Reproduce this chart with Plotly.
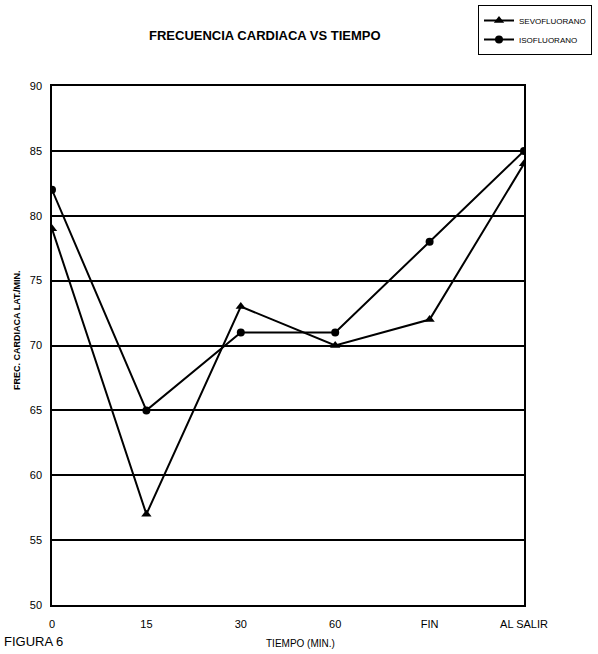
import plotly.graph_objects as go

# Tiempo de medición
tiempos = ["0", "15", "30", "60", "FIN", "AL SALIR"]

# Frecuencia cardiaca (lat./min.) por grupo
sevofluorano = [79, 57, 73, 70, 72, 84]
isofluorano = [82, 65, 71, 71, 78, 85]

y_ticks = [50, 55, 60, 65, 70, 75, 80, 85, 90]

FONT = "Liberation Sans Narrow, Arial Narrow, Liberation Sans, Arial, sans-serif"

W, H = 598, 654
L, R, T, B = 52, 74, 86, 49
PW, PH = W - L - R, H - T - B


def px(x):
    return (x - L) / PW


def py(y):
    return (H - B - y) / PH


fig = go.Figure()
fig.add_trace(go.Scatter(
    x=list(range(len(tiempos))), y=sevofluorano, name="SEVOFLUORANO",
    mode="lines+markers",
    line=dict(color="black", width=2),
    marker=dict(symbol="triangle-up", size=9, color="black"),
))
fig.add_trace(go.Scatter(
    x=list(range(len(tiempos))), y=isofluorano, name="ISOFLUORANO",
    mode="lines+markers",
    line=dict(color="black", width=2),
    marker=dict(symbol="circle", size=8, color="black"),
))

fig.update_layout(
    width=W, height=H,
    margin=dict(l=L, r=R, t=T, b=B, autoexpand=False),
    paper_bgcolor="white", plot_bgcolor="white",
    font=dict(family=FONT, color="black", size=11),
    showlegend=True,
    legend=dict(
        xref="container", yref="container",
        x=478 / W, y=1 - 5 / H, xanchor="left", yanchor="top",
        bordercolor="black", borderwidth=1, bgcolor="white",
        font=dict(size=8, family=FONT), tracegroupgap=0,
        itemwidth=30,
    ),
    annotations=[
        dict(text="<b>FRECUENCIA CARDIACA VS TIEMPO</b>", xref="paper", yref="paper",
             x=px(265), y=py(35), xanchor="center", yanchor="middle",
             showarrow=False, font=dict(size=13, family=FONT)),
        dict(text="<b>FREC. CARDIACA LAT./MIN.</b>", xref="paper", yref="paper",
             x=px(17), y=py(330), textangle=-90,
             xanchor="center", yanchor="middle", showarrow=False,
             font=dict(size=9, family=FONT)),
        dict(text="TIEMPO (MIN.)", xref="paper", yref="paper",
             x=px(300), y=py(643), xanchor="center", yanchor="middle",
             showarrow=False, font=dict(size=10, family=FONT)),
        dict(text="FIGURA 6", xref="paper", yref="paper",
             x=px(2), y=py(641), xanchor="left", yanchor="middle",
             showarrow=False, font=dict(size=13, family=FONT)),
    ],
)

fig.update_xaxes(
    range=[0, len(tiempos) - 1],
    tickmode="array", tickvals=list(range(len(tiempos))), ticktext=tiempos,
    showgrid=False, zeroline=False,
    showline=True, linecolor="black", linewidth=1.5, mirror=True,
    ticks="", ticklabelstandoff=8,
    tickfont=dict(size=11, family=FONT),
)
fig.update_yaxes(
    range=[50, 90], tickmode="array", tickvals=y_ticks,
    showgrid=True, gridcolor="black", gridwidth=1.5,
    zeroline=False,
    showline=True, linecolor="black", linewidth=1.5, mirror=True,
    ticks="", ticklabelstandoff=6,
    tickfont=dict(size=11, family=FONT),
)

fig.write_html("out.html")
